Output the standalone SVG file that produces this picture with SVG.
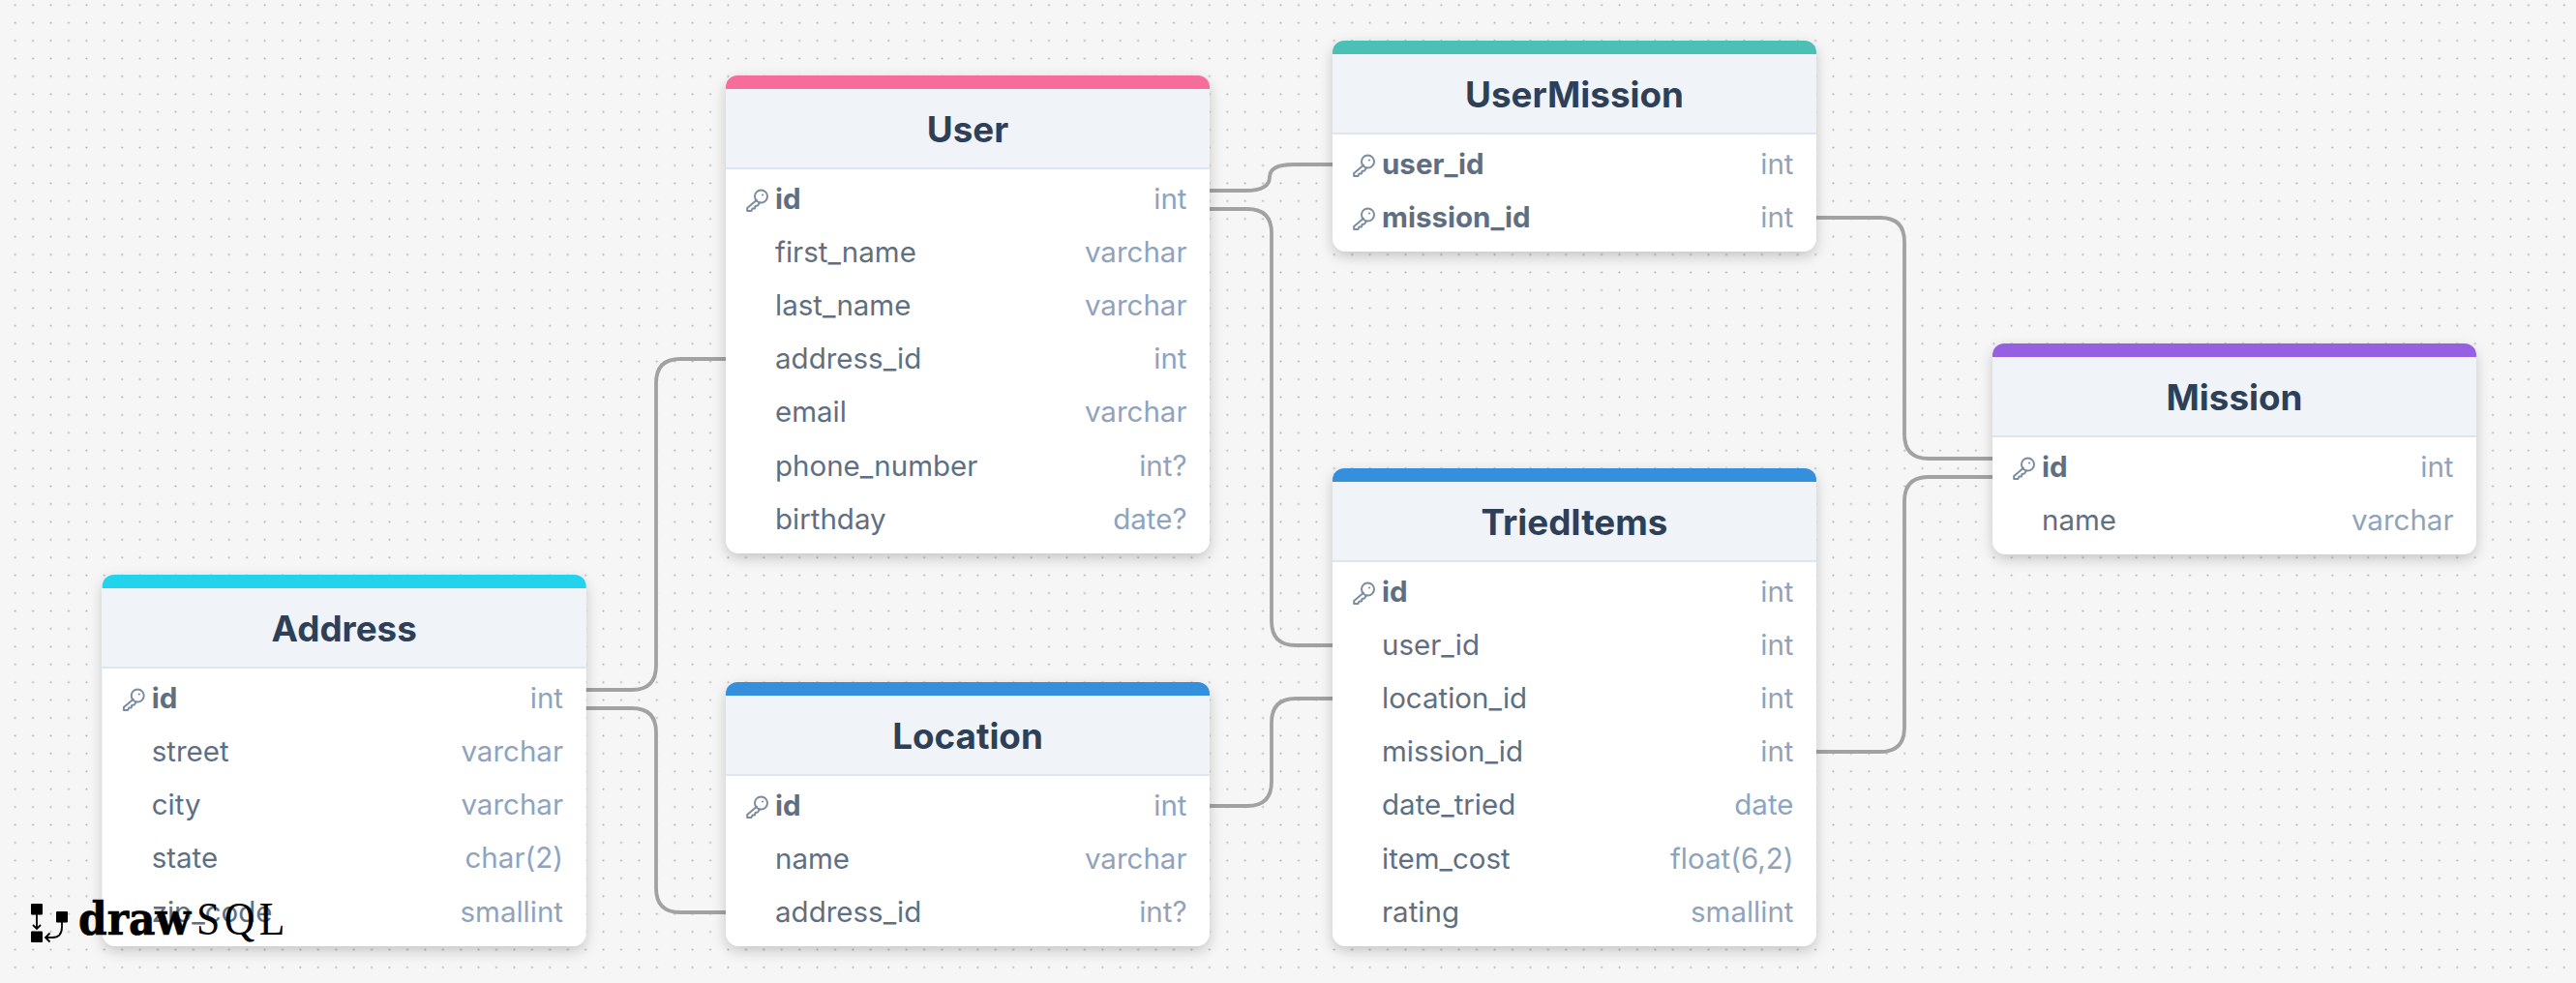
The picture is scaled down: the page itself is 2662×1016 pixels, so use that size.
<svg xmlns="http://www.w3.org/2000/svg" width="2662" height="1016" viewBox="0 0 2662 1016">
<style>
text{font-family:Inter,"Noto Sans","Liberation Sans",sans-serif}
.body{fill:#fff;filter:url(#sh)}
.head{fill:#f0f4f8}
.sep{stroke:#dde6ef;stroke-width:2}
.title{font-size:36.8px;font-weight:700;fill:#2e4057;text-anchor:middle}
.f{font-size:29.5px;fill:#5f6f81}
.pk{font-weight:700}
.t{font-size:29.5px;fill:#90a3bc;text-anchor:end}
.key{fill:none;stroke:#7a8c9e;stroke-width:2;stroke-linecap:round;stroke-linejoin:round}
.c{fill:none;stroke:#a2a2a2;stroke-width:3.8}
</style>
<defs>
<pattern id="dots" x="6.5" y="-4" width="18.42" height="18.42" patternUnits="userSpaceOnUse"><circle cx="9.2" cy="9.2" r="1.05" fill="#b0b0b0"/></pattern>
<filter id="sh" x="-10%" y="-10%" width="120%" height="125%"><feDropShadow dx="0" dy="5" stdDeviation="7" flood-color="#000" flood-opacity=".2"/></filter>
<g id="k" class="key"><circle cx="4.5" cy="-3" r="6.5"/><path d="M0 .8-9.8 9V12H-5.5L-4.5 9.500H-2L-1.500 7 1 6.500 3 3.500M6-4.600h.1"/></g>
</defs>
<rect width="2662" height="1016" fill="#f6f6f6"/>
<rect width="2662" height="1016" fill="url(#dots)"/>

<g id="connectors">
<path class="c" d="M1250 197H1287Q1312 197 1312 183Q1312 170 1337 170H1377"/>
<path class="c" d="M1250 216H1289Q1314 216 1314 241V642Q1314 667 1339 667H1377"/>
<path class="c" d="M1877 225H1943Q1968 225 1968 250V449Q1968 474 1993 474H2060"/>
<path class="c" d="M1877 777H1943Q1968 777 1968 752V518Q1968 493 1993 493H2060"/>
<path class="c" d="M605 713H653Q678 713 678 688V396Q678 371 703 371H750"/>
<path class="c" d="M605 732H653Q678 732 678 757V918Q678 943 703 943H750"/>
<path class="c" d="M1250 833H1289Q1314 833 1314 808V747Q1314 722 1339 722H1377"/>
</g>

<g id="user">
<rect class="body" x="750" y="78" width="500" height="494" rx="14"/>
<path d="M750 92V90a12 12 0 0 1 12-12H1238a12 12 0 0 1 12 12V92Z" fill="#f66d9b"/>
<rect class="head" x="750" y="92" width="500" height="82"/><line class="sep" x1="750" x2="1250" y1="174" y2="174"/>
<text class="title" x="1000" y="147">User</text>
<use href="#k" x="782" y="206"/>
<text class="f pk" x="801" y="216">id</text><text class="t" x="1226.5" y="216">int</text>
<text class="f" x="801" y="271">first_name</text><text class="t" x="1226.5" y="271">varchar</text>
<text class="f" x="801" y="326">last_name</text><text class="t" x="1226.5" y="326">varchar</text>
<text class="f" x="801" y="381">address_id</text><text class="t" x="1226.5" y="381">int</text>
<text class="f" x="801" y="436">email</text><text class="t" x="1226.5" y="436">varchar</text>
<text class="f" x="801" y="492">phone_number</text><text class="t" x="1226.5" y="492">int?</text>
<text class="f" x="801" y="547">birthday</text><text class="t" x="1226.5" y="547">date?</text>
</g>

<g id="usermission">
<rect class="body" x="1377" y="42" width="500" height="218" rx="14"/>
<path d="M1377 56V54a12 12 0 0 1 12-12H1865a12 12 0 0 1 12 12V56Z" fill="#4dc0b5"/>
<rect class="head" x="1377" y="56" width="500" height="82"/><line class="sep" x1="1377" x2="1877" y1="138" y2="138"/>
<text class="title" x="1627" y="111">UserMission</text>
<use href="#k" x="1409" y="170"/>
<text class="f pk" x="1428" y="180">user_id</text><text class="t" x="1853.5" y="180">int</text>
<use href="#k" x="1409" y="225"/>
<text class="f pk" x="1428" y="235">mission_id</text><text class="t" x="1853.5" y="235">int</text>
</g>

<g id="mission">
<rect class="body" x="2059" y="355" width="500" height="218" rx="14"/>
<path d="M2059 369V367a12 12 0 0 1 12-12H2547a12 12 0 0 1 12 12V369Z" fill="#9561e2"/>
<rect class="head" x="2059" y="369" width="500" height="82"/><line class="sep" x1="2059" x2="2559" y1="451" y2="451"/>
<text class="title" x="2309" y="424">Mission</text>
<use href="#k" x="2091" y="483"/>
<text class="f pk" x="2110" y="493">id</text><text class="t" x="2535.5" y="493">int</text>
<text class="f" x="2110" y="548">name</text><text class="t" x="2535.5" y="548">varchar</text>
</g>

<g id="trieditems">
<rect class="body" x="1377" y="484" width="500" height="494" rx="14"/>
<path d="M1377 498V496a12 12 0 0 1 12-12H1865a12 12 0 0 1 12 12V498Z" fill="#3490dc"/>
<rect class="head" x="1377" y="498" width="500" height="82"/><line class="sep" x1="1377" x2="1877" y1="580" y2="580"/>
<text class="title" x="1627" y="553">TriedItems</text>
<use href="#k" x="1409" y="612"/>
<text class="f pk" x="1428" y="622">id</text><text class="t" x="1853.5" y="622">int</text>
<text class="f" x="1428" y="677">user_id</text><text class="t" x="1853.5" y="677">int</text>
<text class="f" x="1428" y="732">location_id</text><text class="t" x="1853.5" y="732">int</text>
<text class="f" x="1428" y="787">mission_id</text><text class="t" x="1853.5" y="787">int</text>
<text class="f" x="1428" y="842">date_tried</text><text class="t" x="1853.5" y="842">date</text>
<text class="f" x="1428" y="898">item_cost</text><text class="t" x="1853.5" y="898">float(6,2)</text>
<text class="f" x="1428" y="953">rating</text><text class="t" x="1853.5" y="953">smallint</text>
</g>

<g id="address">
<rect class="body" x="105.7" y="594" width="500" height="384" rx="14"/>
<path d="M105.7 608V606a12 12 0 0 1 12-12H593.7a12 12 0 0 1 12 12V608Z" fill="#22d3ee"/>
<rect class="head" x="105.7" y="608" width="500" height="82"/><line class="sep" x1="105.7" x2="605.7" y1="690" y2="690"/>
<text class="title" x="355.7" y="663">Address</text>
<use href="#k" x="137.7" y="722"/>
<text class="f pk" x="156.7" y="732">id</text><text class="t" x="582" y="732">int</text>
<text class="f" x="156.7" y="787">street</text><text class="t" x="582" y="787">varchar</text>
<text class="f" x="156.7" y="842">city</text><text class="t" x="582" y="842">varchar</text>
<text class="f" x="156.7" y="897">state</text><text class="t" x="582" y="897">char(2)</text>
<text class="f" x="156.7" y="953">zip_code</text><text class="t" x="582" y="953">smallint</text>
</g>

<g id="location">
<rect class="body" x="750" y="705" width="500" height="273" rx="14"/>
<path d="M750 719V717a12 12 0 0 1 12-12H1238a12 12 0 0 1 12 12V719Z" fill="#3490dc"/>
<rect class="head" x="750" y="719" width="500" height="82"/><line class="sep" x1="750" x2="1250" y1="801" y2="801"/>
<text class="title" x="1000" y="774">Location</text>
<use href="#k" x="782" y="833"/>
<text class="f pk" x="801" y="843">id</text><text class="t" x="1226.5" y="843">int</text>
<text class="f" x="801" y="898">name</text><text class="t" x="1226.5" y="898">varchar</text>
<text class="f" x="801" y="953">address_id</text><text class="t" x="1226.5" y="953">int?</text>
</g>

<g id="logo">
<rect x="32" y="934" width="12" height="11.5" rx="1"/><rect x="58" y="942" width="12" height="11.5" rx="1"/><rect x="32" y="962.5" width="12" height="11.5" rx="1"/>
<path d="M38 945V960M34 956l4 4 4-4M64 953V958Q64 969 54 969H47M51.500 964.500l-4.500 4.500 4.500 4.500" fill="none" stroke="#000" stroke-width="1.800"/>
<text x="81" y="966" font-size="46" font-weight="700" fill="#000" stroke="#000" stroke-width=".7" style="font-family:'DejaVu Serif',serif" textLength="116" lengthAdjust="spacingAndGlyphs">draw</text>
<text transform="translate(203 966) scale(.9 1)" x="0 32 72" font-size="48.500" fill="#000" style="font-family:'Liberation Serif',serif">SQL</text>
</g>
</svg>
